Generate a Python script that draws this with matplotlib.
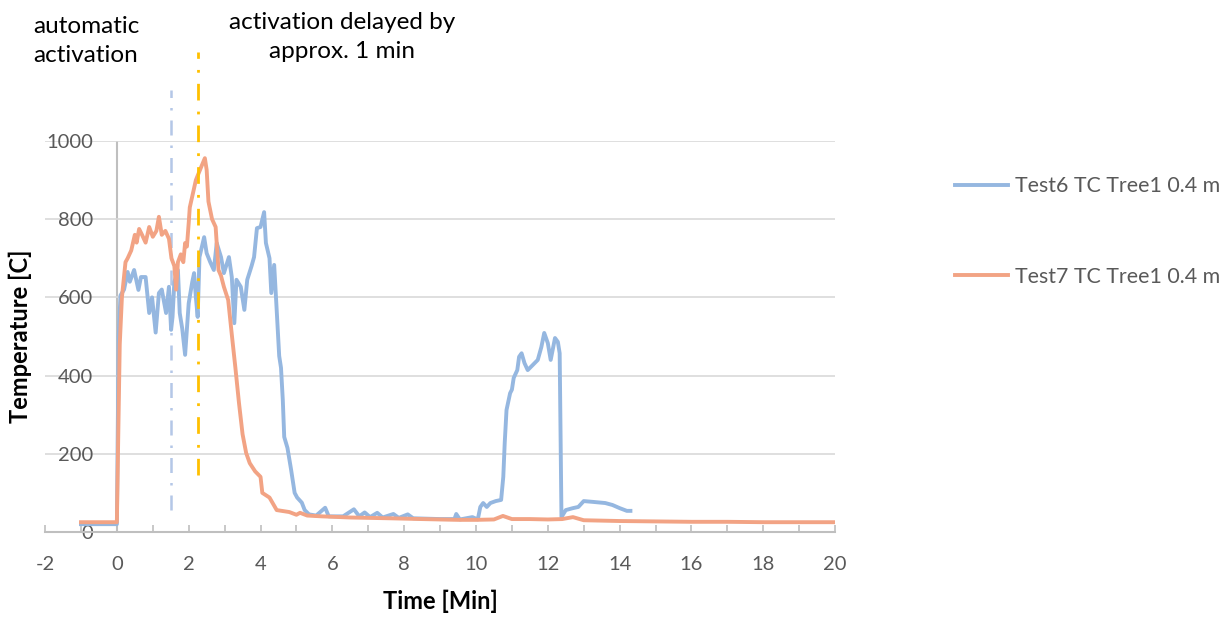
import numpy as np
import matplotlib
matplotlib.use("Agg")
import matplotlib.pyplot as plt

# -------------------------------
# Data
# -------------------------------
t6 = [-1.0, 0.0, 0.05, 0.1, 0.2, 0.3, 0.36, 0.48, 0.6, 0.67, 0.8, 0.9, 0.98, 1.08,
      1.17, 1.25, 1.37, 1.45, 1.51, 1.55, 1.6, 1.7, 1.75, 1.82, 1.9, 2.0, 2.1, 2.15,
      2.2, 2.25, 2.3, 2.43, 2.5, 2.6, 2.7, 2.78, 2.9, 2.98, 3.12, 3.2, 3.27, 3.33,
      3.45, 3.55, 3.63, 3.75, 3.82, 3.9, 4.0, 4.1, 4.15, 4.25, 4.3, 4.38, 4.43,
      4.52, 4.57, 4.62, 4.66, 4.75, 4.85, 4.95, 5.02, 5.15, 5.23, 5.35, 5.55, 5.8,
      5.9, 6.3, 6.6, 6.75, 6.9, 7.05, 7.25, 7.4, 7.7, 7.85, 8.1, 8.25, 9.0, 9.4,
      9.45, 9.55, 9.9, 10.05, 10.12, 10.2, 10.3, 10.4, 10.55, 10.7, 10.76, 10.8,
      10.85, 10.95, 11.0, 11.05, 11.15, 11.2, 11.27, 11.35, 11.44, 11.58, 11.72,
      11.82, 11.9, 12.0, 12.08, 12.2, 12.28, 12.33, 12.38, 12.5, 12.7, 12.85, 13.0,
      13.25, 13.6, 13.8, 14.0, 14.2, 14.3]
temp6 = [20, 20, 500, 605, 620, 665, 640, 670, 619, 652, 652, 560, 600, 510,
         611, 620, 560, 627, 517, 550, 640, 670, 560, 520, 453, 585, 640, 662,
         600, 550, 703, 754, 713, 690, 670, 739, 703, 662, 703, 652, 534, 645,
         627, 568, 645, 680, 703, 777, 780, 818, 739, 700, 611, 683, 601,
         450, 420, 338, 243, 215, 160, 100, 88, 75, 56, 45, 42, 62,
         40, 40, 58, 40, 50, 38, 49, 37, 46, 36, 45, 35, 33, 33,
         46, 32, 38, 32, 64, 74, 64, 74, 79, 82, 141, 228,
         312, 355, 364, 394, 414, 448, 457, 432, 414, 427, 440,
         473, 509, 483, 440, 496, 486, 457, 38, 56, 61, 64, 79,
         77, 74, 69, 61, 54, 54]

t7 = [-1.0, 0.0, 0.03, 0.08, 0.14, 0.24, 0.3, 0.4, 0.5, 0.55, 0.62, 0.7, 0.8, 0.9,
      1.0, 1.1, 1.17, 1.25, 1.35, 1.45, 1.52, 1.6, 1.65, 1.7, 1.78, 1.85, 1.9, 1.95,
      2.0, 2.03, 2.12, 2.2, 2.35, 2.45, 2.5, 2.55, 2.65, 2.75, 2.83, 2.9, 2.98, 3.1,
      3.2, 3.3, 3.4, 3.5, 3.6, 3.7, 3.85, 4.0, 4.05, 4.25, 4.45, 4.8, 5.0, 5.1, 5.3,
      5.7, 6.5, 7.6, 8.5, 9.5, 10.0, 10.5, 10.75, 11.0, 11.5, 12.0, 12.4, 12.7, 13.0,
      14.0, 15.0, 16.0, 17.0, 18.0, 19.0, 20.0]
temp7 = [25, 25, 200, 480, 600, 690, 700, 720, 760, 740, 775, 760, 740, 780,
         755, 770, 806, 760, 770, 750, 700, 680, 620, 690, 710, 690, 739, 730,
         790, 830, 867, 900, 934, 956, 926, 845, 800, 780, 670, 655, 627, 593,
         505, 420, 330, 250, 202, 176, 155, 141, 100, 88, 56, 51, 44, 49, 42,
         40, 37, 35, 33, 31, 31, 32, 41, 33, 33, 32, 33, 38, 30,
         28, 27, 26, 26, 25, 25, 25]

labels = ["Test6 TC Tree1 0.4 m", "Test7 TC Tree1 0.4 m"]
activation_times = [1.5, 2.27]   # automatic / delayed activation [min]

# -------------------------------
# Style
# -------------------------------
plt.rcParams['font.family'] = ['Lato', 'DejaVu Sans']
plt.rcParams['axes.unicode_minus'] = False
GREY_TXT = "#595959"
GRID = "#d9d9d9"
AXIS = "#bfbfbf"
BLUE = "#95b7e0"
ORANGE = "#f2a384"

fig = plt.figure(figsize=(12.31, 6.18), dpi=100)
ax = fig.add_axes([0.0366, 0.1392, 0.6418, 0.6327])

ax.plot(t6, temp6, color=BLUE, lw=2.8, label=labels[0], zorder=3)
ax.plot(t7, temp7, color=ORANGE, lw=2.8, label=labels[1], zorder=4)

# activation markers (extend above the plot area)
ax.plot([activation_times[0]] * 2, [56, 1130], color="#b4c7e7", lw=1.8,
        ls=(0, (6, 4, 1, 4)), clip_on=False, zorder=2)
ax.plot([activation_times[1]] * 2, [146, 1228], color="#ffc000", lw=2.0,
        ls=(0, (6, 4, 1, 4)), clip_on=False, zorder=5)

ax.set_xlim(-2, 20)
ax.set_ylim(0, 1000)

ax.set_xticks(np.arange(-2, 21, 2))
ax.set_xticks(np.arange(-2, 21, 1), minor=True)
ax.set_yticks(np.arange(0, 1001, 200))

ax.grid(axis='y', color=GRID, lw=1.2, zorder=0)
ax.axvline(0, color=AXIS, lw=1.5, zorder=1)

for s in ['top', 'right', 'left']:
    ax.spines[s].set_visible(False)
ax.spines['bottom'].set_color(AXIS)
ax.spines['bottom'].set_linewidth(1.5)

ax.tick_params(axis='x', which='both', direction='in', length=5, width=1.2,
               color=AXIS, labelcolor=GREY_TXT, labelsize=14.5, pad=17)
ax.tick_params(axis='y', length=0, labelcolor=GREY_TXT, labelsize=14.5, pad=-34.5)

ax.set_xlabel("Time [Min]", fontsize=17, fontweight='bold', labelpad=12)
ax.set_ylabel("Temperature [C]", fontsize=17, fontweight='bold')
ax.yaxis.set_label_coords(-0.017, 0.5)

fig.text(86 / 1231, 1 - 41 / 618, "automatic\nactivation", ha='center', va='center',
         fontsize=17.5, linespacing=1.5)
fig.text(342 / 1231, 1 - 37 / 618, "activation delayed by\napprox. 1 min", ha='center',
         va='center', fontsize=17.5, linespacing=1.45)

fig.legend(loc='upper left', bbox_to_anchor=(955 / 1231, 1 - 176 / 618),
           frameon=False, borderpad=0, borderaxespad=0, handlelength=2.5,
           handletextpad=0.3, labelspacing=3.3, fontsize=15.4, labelcolor=GREY_TXT)

fig.savefig("out.png", dpi=100)
